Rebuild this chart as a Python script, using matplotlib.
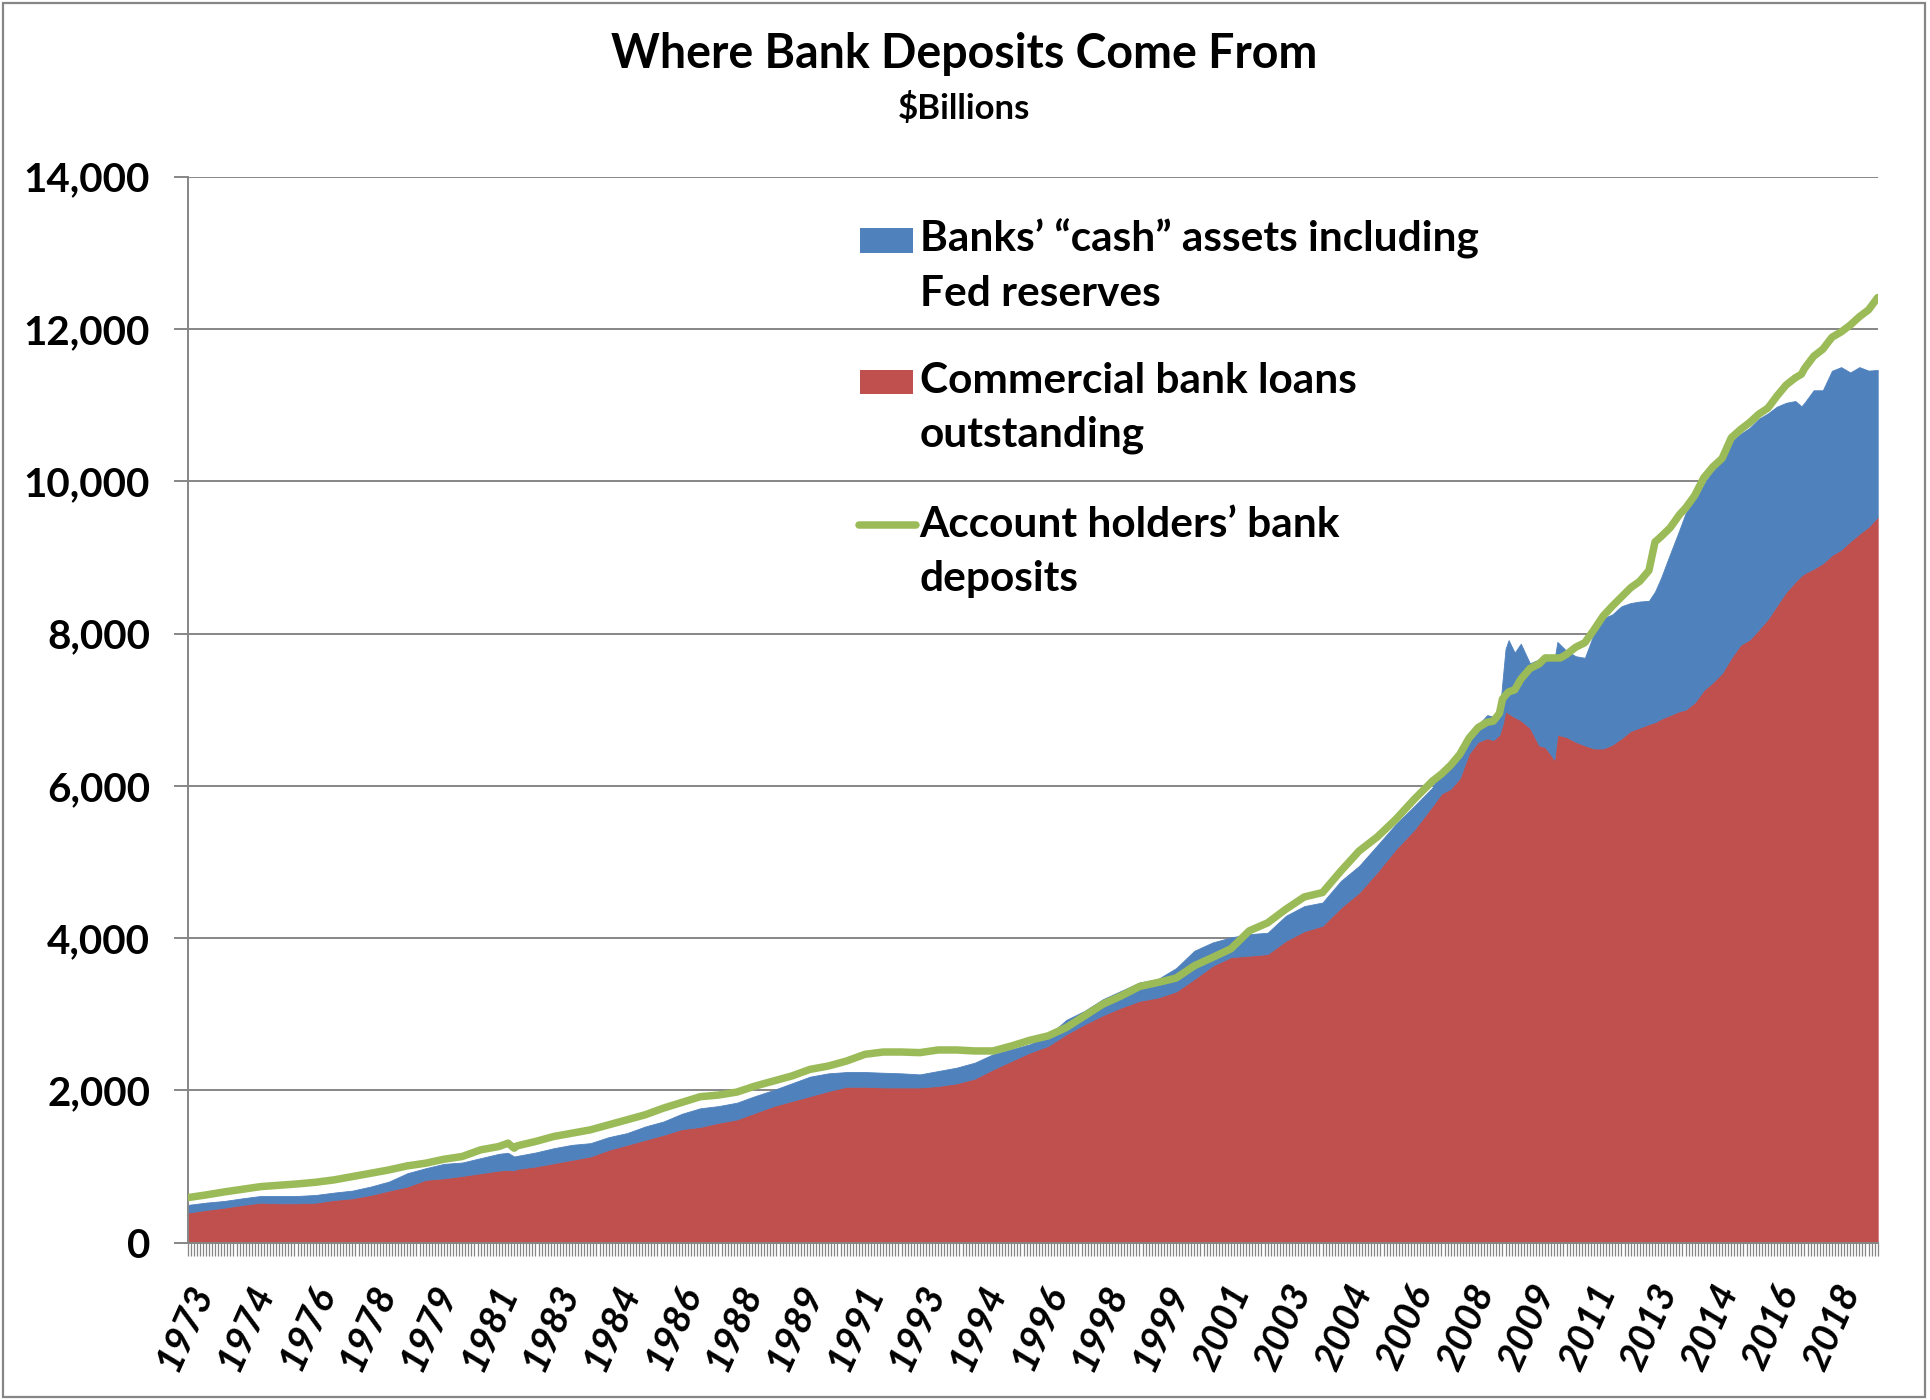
import numpy as np
import matplotlib
matplotlib.use("Agg")
import matplotlib.pyplot as plt
from matplotlib.patches import Rectangle
from matplotlib.lines import Line2D
from matplotlib.ticker import FuncFormatter
import matplotlib.transforms as mtransforms

plt.rcParams['font.family'] = ['Lato', 'DejaVu Sans']

# ---- data ($ billions) -------------------------------------------------
dates = [
    "1973-01", "1973-07", "1974-01", "1974-07", "1975-01", "1975-07",
    "1976-01", "1976-07", "1977-01", "1977-07", "1978-01", "1978-07",
    "1979-01", "1979-07", "1980-01", "1980-07", "1981-01", "1981-07",
    "1981-10", "1981-12", "1982-01", "1982-07", "1983-01", "1983-07",
    "1984-01", "1984-07", "1985-01", "1985-07", "1986-01", "1986-07",
    "1987-01", "1987-07", "1988-01", "1988-07", "1989-01", "1989-07",
    "1990-01", "1990-07", "1991-01", "1991-07", "1992-01", "1992-07",
    "1993-01", "1993-07", "1994-01", "1994-07", "1995-01", "1995-07",
    "1996-01", "1996-07", "1997-01", "1997-07", "1998-01", "1998-07",
    "1999-01", "1999-07", "2000-01", "2000-07", "2001-01", "2001-07",
    "2002-01", "2002-07", "2003-01", "2003-07", "2004-01", "2004-07",
    "2005-01", "2005-07", "2006-01", "2006-07", "2007-01",
    "2007-04", "2007-07", "2007-10",
    "2008-01", "2008-04", "2008-07", "2008-09", "2008-11", "2008-12",
    "2009-01", "2009-02", "2009-04", "2009-06", "2009-09", "2009-12",
    "2010-02", "2010-04", "2010-05", "2010-06", "2010-07", "2010-09", "2010-12",
    "2011-03", "2011-06", "2011-09", "2011-12",
    "2012-03", "2012-06", "2012-09", "2012-12",
    "2013-02", "2013-04", "2013-07", "2013-10", "2013-12",
    "2014-03", "2014-06", "2014-09", "2014-12",
    "2015-03", "2015-06", "2015-09", "2015-12",
    "2016-03", "2016-06", "2016-09", "2016-12",
    "2017-02", "2017-03", "2017-06", "2017-09", "2017-12",
    "2018-03", "2018-06", "2018-09", "2018-12",
    "2019-03",
]

loans = [
    395, 430, 460, 496, 526, 518,
    518, 526, 561, 583, 627, 684,
    737, 825, 846, 877, 912, 947,
    956, 950, 969, 1000, 1044, 1088,
    1132, 1219, 1285, 1351, 1417, 1491,
    1520, 1575, 1618, 1706, 1794, 1860,
    1925, 1991, 2048, 2048, 2039, 2039,
    2039, 2057, 2092, 2154, 2276, 2386,
    2496, 2583, 2737, 2868, 2987, 3088,
    3175, 3219, 3298, 3463, 3637, 3750,
    3769, 3790, 3965, 4090, 4162, 4400,
    4598, 4870, 5166, 5420, 5734,
    5897, 5960, 6100,
    6420, 6577, 6624, 6600, 6671, 6800,
    6976, 6950, 6900, 6860, 6760, 6530,
    6507, 6400, 6343, 6671, 6660, 6640, 6577,
    6530, 6490, 6490, 6540,
    6624, 6720, 6764, 6810,
    6835, 6880, 6929, 6980, 6999,
    7093, 7257, 7360, 7480,
    7680, 7850, 7920, 8050,
    8190, 8370, 8546, 8680,
    8760, 8790, 8850, 8921, 9030,
    9100, 9210, 9310, 9400,
    9530,
]

cash = [
    101, 96, 88, 87, 88, 96,
    96, 101, 97, 101, 110, 119,
    175, 153, 189, 176, 198, 220,
    224, 182, 171, 184, 197, 197,
    175, 167, 154, 175, 175, 202,
    245, 219, 220, 219, 210, 232,
    255, 233, 193, 193, 193, 185,
    171, 197, 206, 210, 198, 153,
    109, 132, 188, 176, 210, 219,
    242, 242, 307, 371, 306, 259,
    283, 280, 328, 330, 305, 350,
    350, 350, 328, 310, 240,
    305, 340, 330,
    200, 223, 305, 305, 258, 574,
    820, 963, 849, 1006, 848, 1130,
    1219, 1279, 1307, 1219, 1190, 1130, 1125,
    1150, 1510, 1710, 1710,
    1734, 1680, 1656, 1619,
    1715, 1853, 2121, 2380, 2578,
    2707, 2703, 2780, 2820,
    2840, 2770, 2780, 2769,
    2700, 2610, 2484, 2373,
    2223, 2240, 2344, 2273, 2420,
    2398, 2218, 2188, 2052,
    1931,
]

deposits = [
    592, 627, 667, 702, 737, 754,
    772, 794, 825, 868, 912, 956,
    1009, 1044, 1096, 1132, 1219, 1263,
    1307, 1241, 1272, 1329, 1395, 1439,
    1482, 1548, 1614, 1680, 1768, 1842,
    1917, 1939, 1978, 2057, 2123, 2189,
    2276, 2320, 2386, 2474, 2504, 2504,
    2496, 2531, 2531, 2518, 2518, 2583,
    2658, 2715, 2825, 2978, 3132, 3241,
    3364, 3417, 3475, 3637, 3747, 3860,
    4096, 4200, 4380, 4540, 4598, 4880,
    5144, 5330, 5559, 5820, 6061,
    6155, 6270, 6413,
    6624, 6765, 6835, 6849, 6952, 7140,
    7190, 7233, 7260, 7400, 7540, 7600,
    7679, 7679, 7679, 7679, 7679, 7726, 7820,
    7880, 8050, 8230, 8360,
    8480, 8600, 8686, 8827,
    9202, 9273, 9390, 9560, 9647,
    9811, 10046, 10190, 10300,
    10570, 10678, 10770, 10880,
    10960, 11120, 11264, 11358,
    11405, 11480, 11640, 11733, 11890,
    11960, 12050, 12160, 12250,
    12412,
]

tick_years = [1973, 1974, 1976, 1978, 1979, 1981, 1983, 1984, 1986, 1988,
              1989, 1991, 1993, 1994, 1996, 1998, 1999, 2001, 2003, 2004,
              2006, 2008, 2009, 2011, 2013, 2014, 2016, 2018]
label_every = 20  # months between labelled categories

series_labels = [
    ["Banks\u2019 \u201ccash\u201d assets including", "Fed reserves"],
    ["Commercial bank loans", "outstanding"],
    ["Account holders\u2019 bank", "deposits"],
]
title = "Where Bank Deposits Come From"
subtitle = "$Billions"

RED = "#C0504D"
BLUE = "#4F81BD"
GREEN = "#9BBB59"
GRID = "#868686"

# ---- figure --------------------------------------------------------------
W, H = 1930, 1400
fig = plt.figure(figsize=(W / 100, H / 100), dpi=100)


def fx(px):
    return px / W


def fy(py):
    return 1 - py / H


# monthly category axis: one category per month from Jan 1973
x = np.array([(int(d[:4]) - 1973) * 12 + int(d[5:7]) - 1 for d in dates])
n_months = int(x[-1]) + 1

ax = fig.add_axes([fx(187.7), fy(1242.7), fx(1877.7) - fx(187.7),
                   fy(176.6) - fy(1242.7)])

ax.stackplot(x, loans, cash, colors=[RED, BLUE], linewidth=0.6,
             edgecolor='face', zorder=2)
ax.plot(x, deposits, color=GREEN, lw=5.4, solid_joinstyle='round',
        solid_capstyle='round', zorder=3)

ax.set_xlim(0, n_months - 1)
ax.set_ylim(0, 14000)
ax.set_yticks(np.arange(0, 14001, 2000))
ax.yaxis.set_major_formatter(FuncFormatter(lambda v, p: f"{int(v):,}"))
ax.grid(axis='y', color=GRID, lw=1.4, zorder=0)
ax.set_axisbelow(True)
for s in ['top', 'right']:
    ax.spines[s].set_visible(False)
for s in ['left', 'bottom']:
    ax.spines[s].set_color(GRID)
    ax.spines[s].set_linewidth(1.4)

ax.tick_params(axis='y', length=10, width=1.4, color=GRID, pad=17,
               labelsize=29)
for t in ax.get_yticklabels():
    t.set_fontweight('bold')

ax.set_xticks(np.arange(0, n_months), minor=True)
ax.set_xticks([label_every * k for k in range(len(tick_years))])
ax.set_xticklabels([str(y) for y in tick_years], rotation=66, ha='right',
                   va='center', rotation_mode='anchor', fontsize=28,
                   fontweight='bold', fontstyle='italic')
ax.tick_params(axis='x', which='both', length=9.5, width=0.9, color=GRID,
               direction='out')
ax.tick_params(axis='x', which='major', pad=22)
shift = mtransforms.ScaledTranslation(15 / 100, 0, fig.dpi_scale_trans)
for t in ax.get_xticklabels():
    t.set_transform(t.get_transform() + shift)

# ---- titles ----------------------------------------------------------------
fig.text(0.4995, fy(68), title, ha='center', va='baseline', fontsize=33.5,
         fontweight='bold')
fig.text(0.4995, fy(119), subtitle, ha='center', va='baseline', fontsize=25,
         fontweight='bold')

# ---- legend ----------------------------------------------------------------
text_x = fx(919.5)
line_gap = 54
entry_baselines = [251.7, 393.0, 536.7]

fig.add_artist(Rectangle((fx(860), fy(253)), fx(913) - fx(860),
                         fy(228) - fy(253), transform=fig.transFigure,
                         facecolor=BLUE, edgecolor='none'))
fig.add_artist(Rectangle((fx(860), fy(394)), fx(913) - fx(860),
                         fy(370) - fy(394), transform=fig.transFigure,
                         facecolor=RED, edgecolor='none'))
fig.add_artist(Line2D([fx(859), fx(916)], [fy(525), fy(525)],
                      transform=fig.transFigure, color=GREEN, lw=5.4,
                      solid_capstyle='round'))

for lines, base in zip(series_labels, entry_baselines):
    for i, line in enumerate(lines):
        fig.text(text_x, fy(base + i * line_gap), line, ha='left',
                 va='baseline', fontsize=30.5, fontweight='bold')

# chart frame
fig.add_artist(Rectangle((0.0015, 0.002), 0.996, 0.996,
                         transform=fig.transFigure, facecolor='none',
                         edgecolor=GRID, lw=1.6))

fig.savefig("out.png", dpi=100, facecolor='white')
